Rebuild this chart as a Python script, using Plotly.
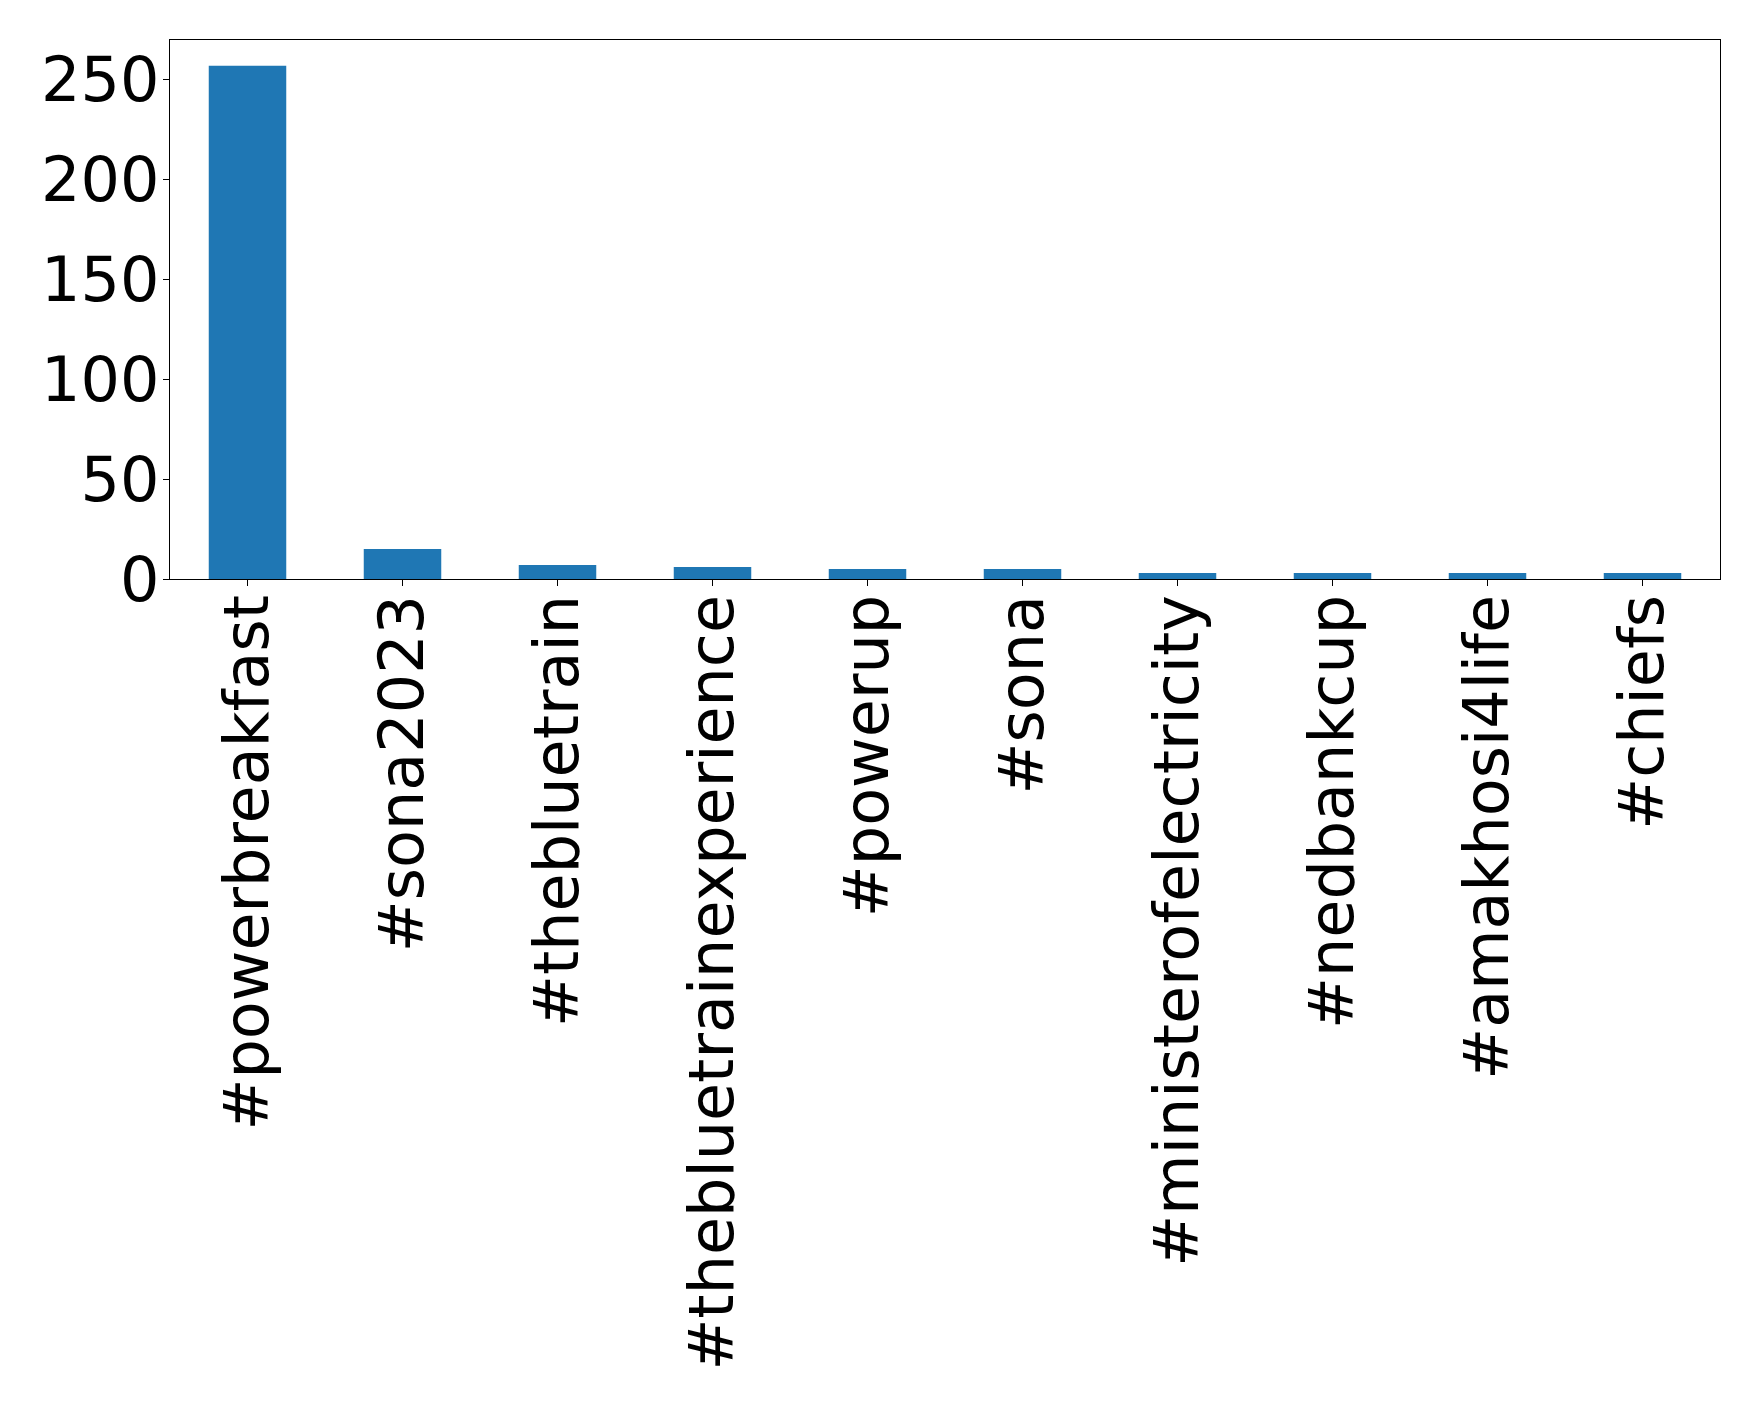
import plotly.graph_objects as go

categories = ["#powerbreakfast", "#sona2023", "#thebluetrain", "#thebluetrainexperience",
              "#powerup", "#sona", "#ministerofelectricity", "#nedbankcup",
              "#amakhosi4life", "#chiefs"]
counts = [257, 15, 7, 6, 5, 5, 3, 3, 3, 3]
y_ticks = [0, 50, 100, 150, 200, 250]

fig = go.Figure(go.Bar(x=categories, y=counts, width=0.5, marker_color="#1f77b4",
                       marker_line_width=0))

font = dict(family="DejaVu Sans", size=62, color="black")
fig.update_layout(
    width=1758, height=1410,
    margin=dict(l=162, r=46, t=32, b=839, autoexpand=False),
    plot_bgcolor="white", paper_bgcolor="white",
    showlegend=False,
    font=font,
)
fig.update_xaxes(
    range=[-0.5, 9.5], tickangle=-90, tickfont=font, automargin=False,
    showline=True, linecolor="black", linewidth=1.3, mirror=True,
    ticks="outside", ticklen=6, tickcolor="black", showgrid=False,
    ticklabelstandoff=-16,
)
fig.update_yaxes(
    range=[0, 269.85], tickvals=y_ticks, tickfont=font, automargin=False,
    showline=True, linecolor="black", linewidth=1.3, mirror=True,
    ticks="outside", ticklen=6, tickcolor="black", showgrid=False, zeroline=False,
    ticklabelstandoff=-9,
)
fig.write_html("out.html")
